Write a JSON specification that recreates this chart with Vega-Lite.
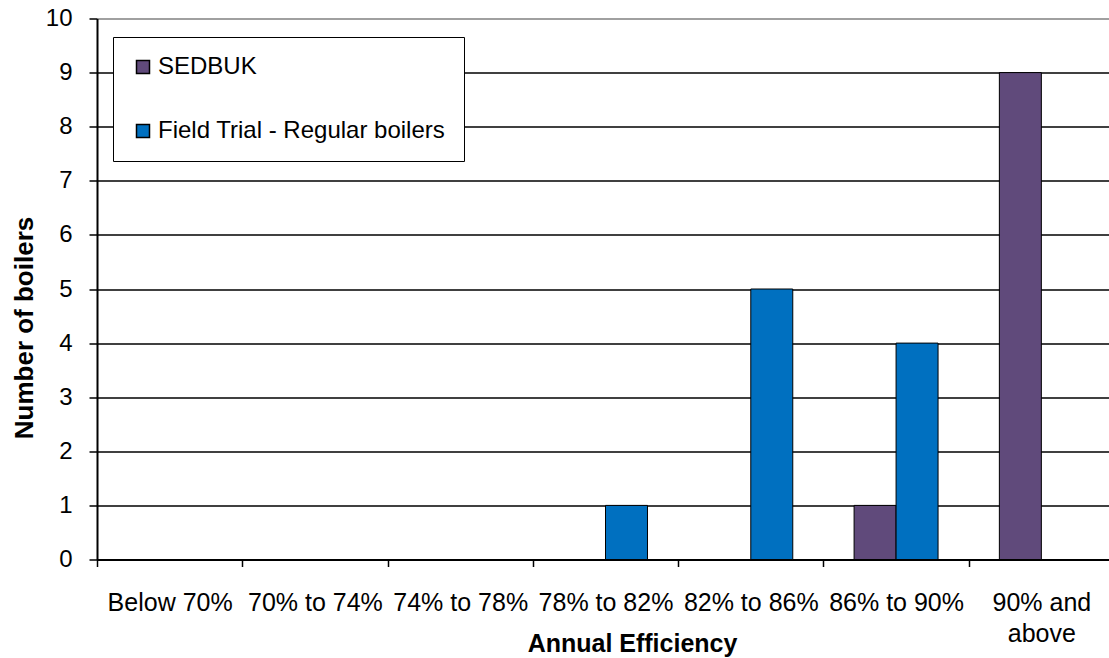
{
  "$schema": "https://vega.github.io/schema/vega-lite/v6.json",
  "width": 1012,
  "height": 541,
  "autosize": {"type": "none"},
  "padding": {"left": 97, "top": 18.5, "right": 0, "bottom": 98.5},
  "background": "white",
  "config": {
    "font": "Liberation Sans",
    "view": {"stroke": null}
  },
  "data": {
    "values": [
      {"category": "Below 70%", "series": "SEDBUK", "count": 0},
      {"category": "Below 70%", "series": "Field Trial - Regular boilers", "count": 0},
      {"category": "70% to 74%", "series": "SEDBUK", "count": 0},
      {"category": "70% to 74%", "series": "Field Trial - Regular boilers", "count": 0},
      {"category": "74% to 78%", "series": "SEDBUK", "count": 0},
      {"category": "74% to 78%", "series": "Field Trial - Regular boilers", "count": 0},
      {"category": "78% to 82%", "series": "SEDBUK", "count": 0},
      {"category": "78% to 82%", "series": "Field Trial - Regular boilers", "count": 1},
      {"category": "82% to 86%", "series": "SEDBUK", "count": 0},
      {"category": "82% to 86%", "series": "Field Trial - Regular boilers", "count": 5},
      {"category": "86% to 90%", "series": "SEDBUK", "count": 1},
      {"category": "86% to 90%", "series": "Field Trial - Regular boilers", "count": 4},
      {"category": "90% and above", "series": "SEDBUK", "count": 9},
      {"category": "90% and above", "series": "Field Trial - Regular boilers", "count": 0}
    ]
  },
  "mark": {"type": "bar", "stroke": "black", "strokeWidth": 1},
  "encoding": {
    "x": {
      "field": "category",
      "type": "nominal",
      "sort": null,
      "scale": {
        "domain": ["Below 70%", "70% to 74%", "74% to 78%", "78% to 82%", "82% to 86%", "86% to 90%", "90% and above"],
        "range": [0, 1017],
        "paddingInner": 0,
        "paddingOuter": 0
      },
      "axis": {
        "title": "Annual Efficiency",
        "titleFontSize": 25,
        "titleFontWeight": "bold",
        "titleColor": "black",
        "titleX": 535,
        "titleY": 91.5,
        "titleAlign": "center",
        "titleBaseline": "alphabetic",
        "labelAngle": 0,
        "labelFontSize": 25,
        "labelColor": "black",
        "labelBaseline": "alphabetic",
        "labelPadding": 44,
        "labelLineHeight": 31,
        "labelLimit": 0,
        "labelExpr": "datum.label == '90% and above' ? ['90% and', 'above'] : datum.label",
        "tickBand": "extent",
        "tickColor": "black",
        "tickSize": 7,
        "tickWidth": 1.5,
        "domainColor": "black",
        "domainWidth": 2,
        "grid": false
      }
    },
    "xOffset": {
      "field": "series",
      "type": "nominal",
      "sort": ["SEDBUK", "Field Trial - Regular boilers"],
      "scale": {"paddingInner": 0, "paddingOuter": 0.73}
    },
    "y": {
      "field": "count",
      "type": "quantitative",
      "scale": {"domain": [0, 10], "nice": false},
      "axis": {
        "title": "Number of boilers",
        "titleFontSize": 26,
        "titleFontWeight": "bold",
        "titleColor": "black",
        "titleX": -65,
        "titleY": 309,
        "titleAlign": "center",
        "titleBaseline": "alphabetic",
        "titleAngle": -90,
        "values": [0, 1, 2, 3, 4, 5, 6, 7, 8, 9, 10],
        "labelFontSize": 24,
        "labelColor": "black",
        "labelPadding": 17,
        "tickColor": "black",
        "tickSize": 8,
        "tickWidth": 1.5,
        "domainColor": "black",
        "domainWidth": 2,
        "grid": true,
        "gridColor": {"condition": {"test": "datum.value == 10", "value": "#808080"}, "value": "black"},
        "gridWidth": 1.5
      }
    },
    "color": {
      "field": "series",
      "type": "nominal",
      "sort": ["SEDBUK", "Field Trial - Regular boilers"],
      "scale": {"domain": ["SEDBUK", "Field Trial - Regular boilers"], "range": ["#604A7B", "#0070C0"]},
      "legend": {
        "title": null,
        "orient": "none",
        "legendX": 16,
        "legendY": 18.5,
        "direction": "vertical",
        "fillColor": "white",
        "strokeColor": "black",
        "padding": 18,
        "rowPadding": 40,
        "symbolType": "square",
        "symbolSize": 169,
        "symbolStrokeColor": "black",
        "symbolStrokeWidth": 1.5,
        "symbolOffset": 0,
        "labelFontSize": 24,
        "labelColor": "black",
        "labelOffset": 3,
        "labelLimit": 0
      }
    }
  }
}
